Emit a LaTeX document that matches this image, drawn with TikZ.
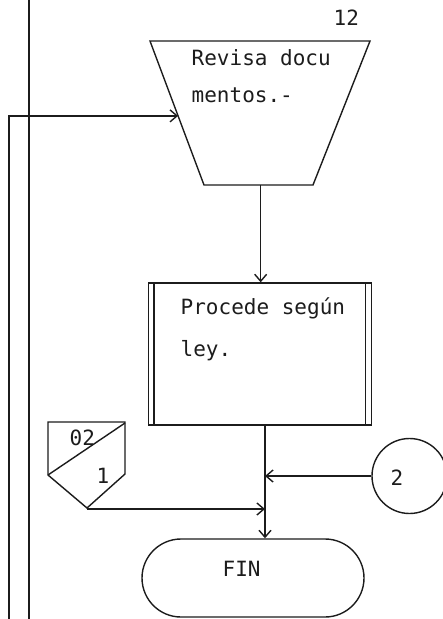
\documentclass[tikz,border=0pt]{standalone}
\usepackage{fontspec}
\setmonofont{DejaVu Sans Mono}
\usetikzlibrary{positioning,arrows.meta,calc,shapes.geometric}
\definecolor{cInk}{HTML}{1C1C1C}

\begin{document}
\begin{tikzpicture}[x=1pt, y=-1pt, line width=1.4pt, color=cInk, font=\fontsize{21}{25}\ttfamily,
    flow/.style={-{Straight Barb[length=7pt,width=12pt]}},
    txt/.style={anchor=base west, inner sep=0pt}]
        \useasboundingbox (0,0) rectangle (443,619);
        \draw (29,0) -- (29,619);
        \coordinate (revisaNW) at (150,41);
        \coordinate (revisaNE) at (370,41);
        \coordinate (revisaSE) at (313,185);
        \coordinate (revisaSW) at (204,185);
        \draw (revisaNW) -- (revisaNE) -- (revisaSE) -- (revisaSW) -- cycle;
        \coordinate (revisaW) at ($(revisaNW)!0.52!(revisaSW)$);
        \coordinate (revisaS) at ($(revisaSW)!0.52!(revisaSE)$);
        \node[draw, minimum width=223pt, minimum height=142pt, inner sep=0pt] (procede) at (260,354) {};
        \draw ($(procede.north west)+(6,0)$) -- ($(procede.south west)+(6,0)$);
        \draw ($(procede.north east)+(-7,0)$) -- ($(procede.south east)+(-7,0)$);
        \node[draw, rounded corners=39pt, minimum width=222pt, minimum height=78pt, inner sep=0pt] (fin) at (253,578) {};
        \node[draw, circle, minimum size=75pt, inner sep=0pt] (conector) at (409.5,476) {};
        \draw (48,422) -- (125,422) -- (125,474) -- (87,508) -- (48,475) -- cycle;
        \draw (48,475) -- (125,423);
        \coordinate (pagina) at (87,509);
        \coordinate (lazo) at (9,619);
        \node[txt] (num) at (333,25) {12};
        \node[txt] (revisaA) at (191,65) {Revisa docu};
        \node[txt] (revisaB) at (191,102) {mentos.-};
        \node[txt] (procedeA) at (180,314) {Procede según};
        \node[txt] (procedeB) at (180,356) {ley.};
        \node[txt] (hoja) at (69,445) {02};
        \node[txt] (paso) at (96,483) {1};
        \node[txt] (conTxt) at (390,485) {2};
        \node[txt] (finTxt) at (222,576) {FIN};
        \draw[flow] (lazo) |- (revisaW);
        \draw[flow] (revisaS) -- (revisaS |- procede.north);
        \draw[flow] ($(procede.south)+(5,0)$) -- ($(procede.south |- fin.north)+(5,0)$);
        \draw[flow] (conector.west) -- ($(conector.west -| procede.south)+(5,0)$);
        \draw[flow] (pagina) -- ($(pagina -| procede.south)+(5,0)$);
      \end{tikzpicture}
\end{document}
